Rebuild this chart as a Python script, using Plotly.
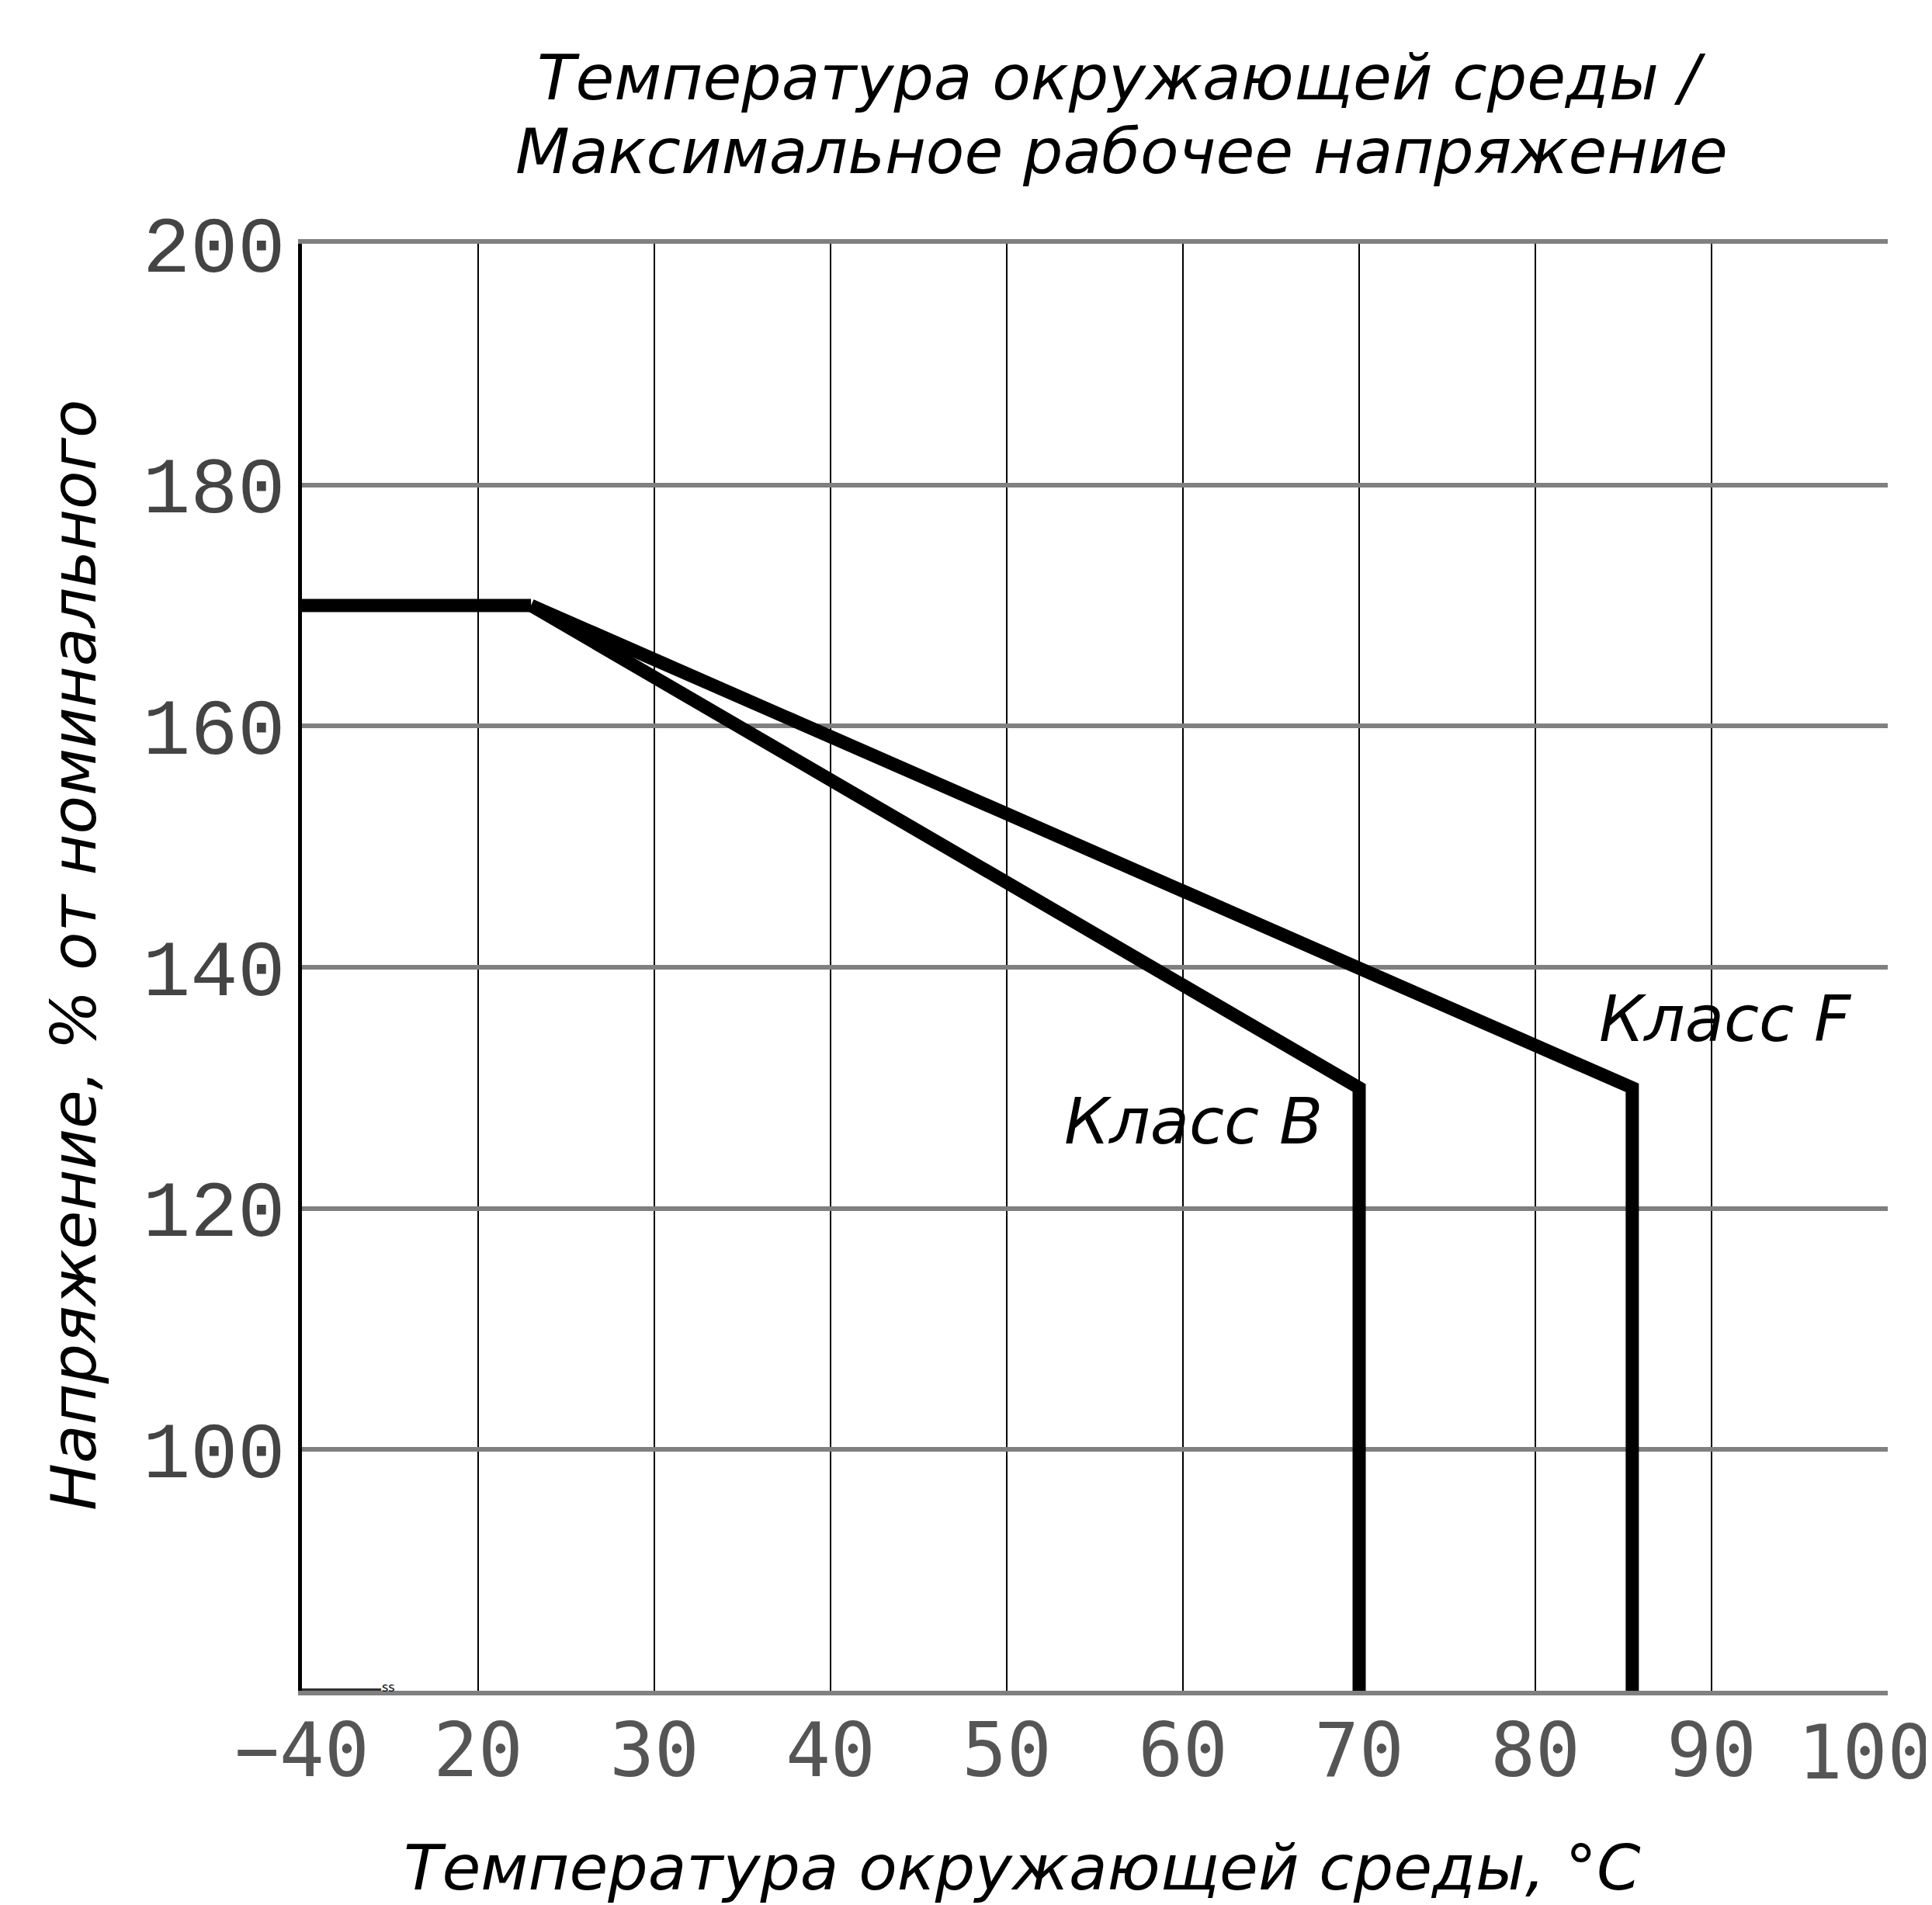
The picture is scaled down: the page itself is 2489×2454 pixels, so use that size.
import plotly.graph_objects as go

# Axis is broken: the first position (10) stands for -40 °C
x_ticks = [10, 20, 30, 40, 50, 60, 70, 80, 90]
x_ticktext = ["\u221240", "20", "30", "40", "50", "60", "70", "80", "90"]
x_last_tick = 100
x_last_text = "100"
y_ticks = [100, 120, 140, 160, 180, 200]

# Curves (x positions on the broken axis, 10 == -40 °C)
flat_x = [10, 23]
flat_y = [170, 170]
class_b_x = [23, 70, 70]
class_b_y = [170, 130, 80]
class_f_x = [23, 85.5, 85.5]
class_f_y = [170, 130, 80]

W, H = 2489, 2454
L, R, T, B = 381, 65, 306, 284
PW, PH = W - L - R, H - T - B


def px(x):
    return (x - L) / PW


def py(y):
    return (H - y - B) / PH


fig = go.Figure()
line_style = dict(color="black", width=17)
fig.add_trace(go.Scatter(x=flat_x, y=flat_y, mode="lines", line=line_style, showlegend=False))
fig.add_trace(go.Scatter(x=class_b_x, y=class_b_y, mode="lines", line=line_style, showlegend=False))
fig.add_trace(go.Scatter(x=class_f_x, y=class_f_y, mode="lines", line=line_style, showlegend=False))

title_font = dict(family="DejaVu Sans", size=81, color="black")
xtick_font = dict(family="DejaVu Sans Mono", size=96, color="#555555")
ytick_font = dict(family="Liberation Mono", size=102, color="#444444")

fig.update_layout(
    width=W, height=H,
    margin=dict(l=L, r=R, t=T, b=B),
    plot_bgcolor="white", paper_bgcolor="white",
    showlegend=False,
)
fig.update_xaxes(
    range=[10, 100], tickvals=x_ticks + [x_last_tick], ticktext=x_ticktext + [""],
    showgrid=True, gridcolor="black", gridwidth=2,
    showline=True, linecolor="#808080", linewidth=6, mirror=True,
    ticks="", tickfont=xtick_font, ticklabelstandoff=-11, zeroline=False,
)
fig.update_yaxes(
    range=[80, 200], tickvals=y_ticks,
    showgrid=True, gridcolor="#808080", gridwidth=6,
    showline=True, linecolor="black", linewidth=5, mirror=False,
    ticks="", tickfont=ytick_font, ticklabelstandoff=-4, zeroline=False,
)

annos = [
    dict(text="<i>Температура окружающей среды /</i>", x=1437, y=92, angle=0),
    dict(text="<i>Максимальное рабочее напряжение</i>", x=1437, y=187, angle=0),
    dict(text="<i>Температура окружающей среды, °C</i>", x=1309, y=2398, angle=0),
    dict(text="<i>Напряжение, % от номинального</i>", x=87, y=1222, angle=-90),
]
for a in annos:
    fig.add_annotation(text=a["text"], x=px(a["x"]), y=py(a["y"]), xref="paper", yref="paper",
                       showarrow=False, font=title_font, xanchor="center", yanchor="middle",
                       textangle=a["angle"])

# last x tick label, shifted inside so that it stays on the page
fig.add_annotation(text=x_last_text, x=x_last_tick, y=0, xref="x", yref="paper",
                   showarrow=False, font=xtick_font, xanchor="center", yanchor="middle",
                   yshift=-80, xshift=-30)

fig.add_annotation(text="<i>Класс B</i>", x=60.6, y=127.2, xref="x", yref="y", showarrow=False,
                   font=dict(family="DejaVu Sans", size=82, color="black"))
fig.add_annotation(text="<i>Класс F</i>", x=90.8, y=135.7, xref="x", yref="y", showarrow=False,
                   font=dict(family="DejaVu Sans", size=82, color="black"))
fig.add_annotation(text="ss", x=14.9, y=80.3, xref="x", yref="y", showarrow=False,
                   font=dict(family="DejaVu Sans", size=16, color="black"))
fig.add_shape(type="line", x0=10, x1=14.5, y0=80, y1=80, xref="x", yref="y",
              line=dict(color="#333333", width=6))

fig.write_html("out.html")
